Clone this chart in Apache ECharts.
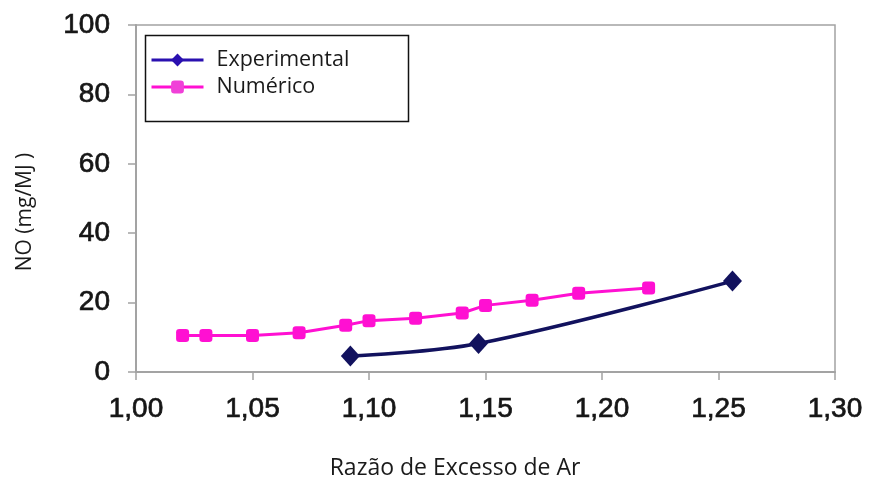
<!DOCTYPE html>
<html>
<head>
<meta charset="utf-8">
<script src="https://cdn.jsdelivr.net/npm/echarts@6/dist/echarts.min.js"></script>
<style>
  html, body { margin: 0; padding: 0; background: #fff; }
  #chart { width: 875px; height: 479px; }
</style>
</head>
<body>
<div id="chart"></div>
<script>
// Excess-air ratio vs NO emission: measured and simulated
const seriesNames = ['Experimental', 'Numérico'];
const expX = [1.092, 1.147, 1.256];
const expY = [4.6, 8.2, 26.2];
const numX = [1.02, 1.03, 1.05, 1.07, 1.09, 1.10, 1.12, 1.14, 1.15, 1.17, 1.19, 1.22];
const numY = [10.5, 10.5, 10.5, 11.3, 13.5, 14.8, 15.5, 17.0, 19.2, 20.7, 22.7, 24.2];
const xName = 'Razão de Excesso de Ar';
const yName = 'NO (mg/MJ )';

const pairs = (xs, ys) => xs.map((x, i) => [x, ys[i]]);

const expColor = '#12125e';
const expLegendColor = '#2a10b0';
const numColor = '#ff10d2';
const axisGray = '#a3a3a3';
// heavy-looking tick numbers: regular face with a thin outline of the same colour
const tickFont = {
  fontFamily: 'Liberation Sans, Arial, sans-serif', fontSize: 28, color: '#161616',
  textBorderColor: '#161616', textBorderWidth: 0.7
};
const nameFont = 'Open Sans, sans-serif';

const chart = echarts.init(document.getElementById('chart'), null, { renderer: 'canvas' });
chart.setOption({
  animation: false,
  backgroundColor: '#ffffff',
  grid: {
    left: 136, right: 40, top: 25, bottom: 107,
    containLabel: false, outerBoundsMode: 'none',
    show: true, borderColor: axisGray, borderWidth: 1.5, backgroundColor: 'transparent'
  },
  xAxis: {
    type: 'value', min: 1.0, max: 1.3, interval: 0.05,
    axisLine: { show: true, lineStyle: { color: axisGray, width: 2 } },
    axisTick: { show: true, inside: false, length: 8, lineStyle: { color: axisGray, width: 1.5 } },
    axisLabel: Object.assign({ margin: 23, formatter: v => v.toFixed(2).replace('.', ',') }, tickFont),
    splitLine: { show: false }
  },
  yAxis: {
    type: 'value', min: 0, max: 100, interval: 20,
    axisLine: { show: true, lineStyle: { color: axisGray, width: 2 } },
    axisTick: { show: true, inside: false, length: 8, lineStyle: { color: axisGray, width: 1.5 } },
    axisLabel: Object.assign({ margin: 26 }, tickFont),
    splitLine: { show: false }
  },
  legend: {
    orient: 'vertical', left: 150, top: 49,
    itemWidth: 52, itemHeight: 16, itemGap: 5,
    padding: 0,
    textStyle: { fontFamily: nameFont, fontSize: 21.5, color: '#1a1a1a', padding: [0, 0, 0, 8] },
    data: [
      { name: seriesNames[0], itemStyle: { color: expLegendColor }, lineStyle: { color: expLegendColor, width: 3 } },
      { name: seriesNames[1], itemStyle: { color: '#f040d8' }, lineStyle: { color: numColor, width: 3 } }
    ]
  },
  graphic: [
    {
      type: 'rect', left: 143, top: 33, z: 100, silent: true,
      shape: { width: 263, height: 86 },
      style: { fill: 'none', stroke: '#111111', lineWidth: 1.5 }
    },
    {
      type: 'text', x: 455, y: 468, silent: true,
      style: { text: xName, font: '23px ' + nameFont, fill: '#1a1a1a', align: 'center', verticalAlign: 'middle' }
    },
    {
      type: 'text', x: 25, y: 212, rotation: Math.PI / 2, silent: true,
      style: { text: yName, font: '21px ' + nameFont, fill: '#1a1a1a', align: 'center', verticalAlign: 'middle' }
    }
  ],
  series: [
    {
      name: seriesNames[0], type: 'line', data: pairs(expX, expY),
      smooth: 0.35, symbol: 'diamond', symbolSize: [19, 21],
      lineStyle: { color: expColor, width: 3.5 },
      itemStyle: { color: expColor }, z: 3
    },
    {
      name: seriesNames[1], type: 'line', data: pairs(numX, numY),
      smooth: false, symbol: 'roundRect', symbolSize: 13,
      lineStyle: { color: numColor, width: 3 },
      itemStyle: { color: numColor }, z: 2
    }
  ]
});
</script>
</body>
</html>
